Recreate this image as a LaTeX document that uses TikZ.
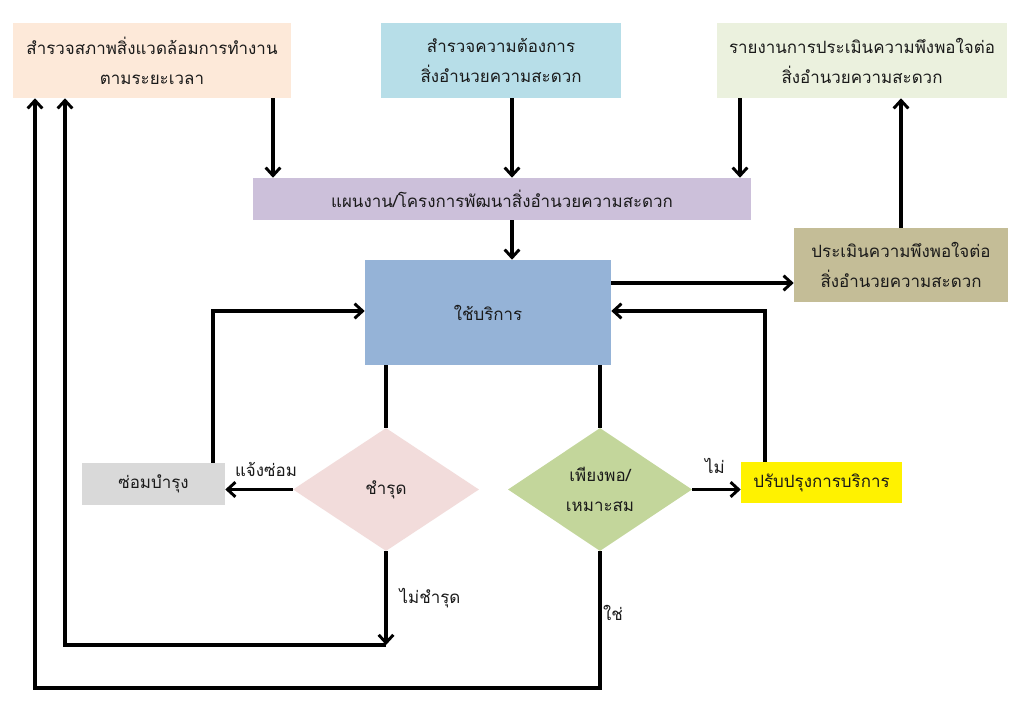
\documentclass[tikz,border=0pt]{standalone}
\usepackage{fontspec}
\newfontfamily\thai[Script=Thai]{Loma}
\usetikzlibrary{arrows.meta,shapes.geometric}
\definecolor{cPeach}{HTML}{FDE9D9}
\definecolor{cBlue}{HTML}{B7DEE8}
\definecolor{cCream}{HTML}{EBF1DE}
\definecolor{cLav}{HTML}{CCC0DA}
\definecolor{cServ}{HTML}{95B3D7}
\definecolor{cTan}{HTML}{C4BD97}
\definecolor{cGray}{HTML}{D9D9D9}
\definecolor{cPink}{HTML}{F2DCDB}
\definecolor{cGreen}{HTML}{C3D69B}
\definecolor{cText}{HTML}{1A1A1A}
\begin{document}
\begin{tikzpicture}[x=0.75pt,y=-0.75pt,
  font=\thai\fontsize{12.7pt}{22.5pt}\selectfont,
  box/.style={rectangle,inner sep=0pt,align=center,text=cText},
  dia/.style={diamond,inner sep=0pt,align=center,text=cText},
  arr/.style={line width=2.5pt,-{Straight Barb[length=6pt,width=11pt,line width=2.2pt]}},
  ln/.style={line width=2.5pt},
  lbl/.style={text=cText,inner sep=0pt}]
\useasboundingbox (0,0) rectangle (1024,709);
\fill[white] (0,0) rectangle (1024,709);
\node[box,fill=cPeach,minimum width=278*0.75pt,minimum height=75*0.75pt] (survenv) at (152,60.5) {สำรวจสภาพสิ่งแวดล้อมการทำงาน\\ตามระยะเวลา};
\node[box,fill=cBlue,minimum width=240*0.75pt,minimum height=75*0.75pt] (survneed) at (501,60.5) {สำรวจความต้องการ\\สิ่งอำนวยความสะดวก};
\node[box,fill=cCream,minimum width=290*0.75pt,minimum height=75*0.75pt] (report) at (862,60.5) {รายงานการประเมินความพึงพอใจต่อ\\สิ่งอำนวยความสะดวก};
\node[box,fill=cLav,minimum width=498*0.75pt,minimum height=42*0.75pt] (plan) at (502,199) {แผนงาน/โครงการพัฒนาสิ่งอำนวยความสะดวก};
\node[box,fill=cServ,minimum width=246*0.75pt,minimum height=105*0.75pt] (serv) at (488,312.5) {ใช้บริการ};
\node[box,fill=cTan,minimum width=214*0.75pt,minimum height=74*0.75pt] (eval) at (901,265) {ประเมินความพึงพอใจต่อ\\สิ่งอำนวยความสะดวก};
\node[box,fill=cGray,minimum width=143*0.75pt,minimum height=42*0.75pt] (repair) at (153.5,484) {ซ่อมบำรุง};
\node[box,fill=yellow,minimum width=161*0.75pt,minimum height=41*0.75pt] (improve) at (821.5,482.5) {ปรับปรุงการบริการ};
\node[dia,fill=cPink,minimum width=186*0.75pt,minimum height=123*0.75pt] (broken) at (386,489.5) {ชำรุด};
\node[dia,fill=cGreen,minimum width=184*0.75pt,minimum height=123*0.75pt] (enough) at (600,489.5) {เพียงพอ/\\เหมาะสม};

\coordinate (x273) at (273,0);
\coordinate (x512) at (512,0);
\coordinate (x740) at (740,0);
\coordinate (x901) at (901,0);
\coordinate (y283) at (0,283);
\coordinate (rr) at (213,311);
\coordinate (ir) at (765,311);
\coordinate (nb) at (386,645);
\coordinate (nbl) at (65,645);
\coordinate (yb) at (600,688);
\coordinate (ybl) at (35,688);

\draw[arr] (survenv.south -| x273) -- (plan.north -| x273);
\draw[arr] (survneed.south -| x512) -- (plan.north -| x512);
\draw[arr] (report.south -| x740) -- (plan.north -| x740);
\draw[arr] (plan.south -| x512) -- (serv.north -| x512);
\draw[arr] (serv.east |- y283) -- (eval.west |- y283);
\draw[arr] (eval.north) -- (report.south -| eval.north);
\draw[ln] (serv.south -| broken.north) -- (broken.north);
\draw[ln] (serv.south -| enough.north) -- (enough.north);
\draw[arr] (broken.west) -- (repair.east |- broken.west);
\draw[arr] (repair.north -| rr) -- (rr) -- (serv.west |- rr);
\draw[arr] (enough.east) -- (improve.west |- enough.east);
\draw[arr] (improve.north -| ir) -- (ir) -- (serv.east |- ir);
\draw[arr] (broken.south) -- (nb);
\draw[arr] (nb) -- (nbl) -- (survenv.south -| nbl);
\draw[arr] (enough.south) -- (yb) -- (ybl) -- (survenv.south -| ybl);

\node[lbl] (lrep) at (266,469) {แจ้งซ่อม};
\node[lbl] (lno) at (715,466) {ไม่};
\node[lbl] (lnb) at (430,598) {ไม่ชำรุด};
\node[lbl] (lyes) at (613,613) {ใช่};
\end{tikzpicture}
\end{document}
